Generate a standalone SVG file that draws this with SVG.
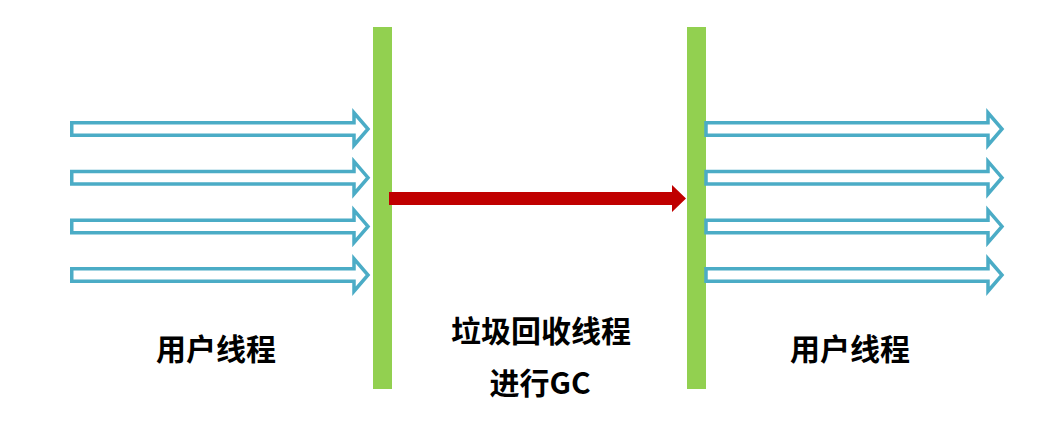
<svg xmlns="http://www.w3.org/2000/svg" width="1040" height="423" viewBox="0 0 1040 423">
<style>
.bar{fill:#92D050}
.th{fill:#fff;stroke:#4BACC6;stroke-width:3.5;stroke-linejoin:miter}
.lbl{font-family:"Noto Sans CJK SC","Noto Sans",sans-serif;font-weight:bold;font-size:30px;fill:#000;text-anchor:middle}
</style>
<defs>
<path id="la" d="M71.75,122.75 H354 V112.75 L368,129 L354,145.25 V135.25 H71.75 Z"/>
<path id="ra" d="M706,122.75 H988 V112.75 L1002,129 L988,145.25 V135.25 H706 Z"/>
</defs>
<rect width="1040" height="423" fill="#fff"/>
<g id="left-barrier"><rect class="bar" x="373" y="27" width="19" height="362"/></g>
<g id="right-barrier"><rect class="bar" x="687" y="27" width="19" height="362"/></g>
<g id="connectors">
<g id="left-threads">
<use href="#la" class="th"/>
<use href="#la" class="th" y="48.7"/>
<use href="#la" class="th" y="97.4"/>
<use href="#la" class="th" y="146"/>
</g>
<g id="right-threads">
<use href="#ra" class="th"/>
<use href="#ra" class="th" y="48.7"/>
<use href="#ra" class="th" y="97.4"/>
<use href="#ra" class="th" y="146"/>
</g>
<path id="gc-arrow" d="M389,192 H672 V185 L686,198.5 L672,212 V205 H389 Z" fill="#C00000"/>
</g>
<g id="label-left"><text class="lbl" x="216" y="360">用户线程</text></g>
<g id="label-center"><text class="lbl" x="541" y="342">垃圾回收线程</text><text class="lbl" x="540" y="394">进行GC</text></g>
<g id="label-right"><text class="lbl" x="850" y="360">用户线程</text></g>
</svg>
